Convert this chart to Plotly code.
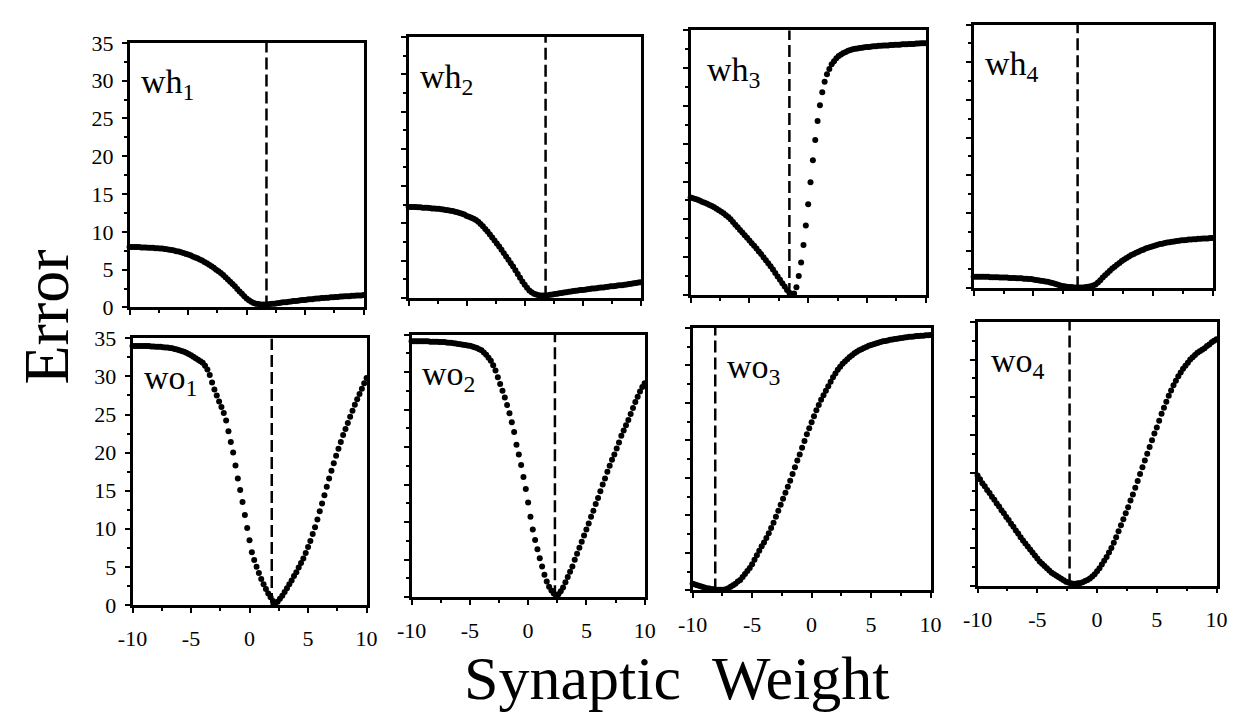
import plotly.graph_objects as go

# Synaptic weight sampled across each sweep (same grid for all eight panels)
WEIGHTS = [
    -10.0, -9.8, -9.6, -9.4, -9.2, -9.0, -8.8, -8.6, -8.4, -8.2,
    -8.0, -7.8, -7.6, -7.4, -7.2, -7.0, -6.8, -6.6, -6.4, -6.2,
    -6.0, -5.8, -5.6, -5.4, -5.2, -5.0, -4.8, -4.6, -4.4, -4.2,
    -4.0, -3.8, -3.6, -3.4, -3.2, -3.0, -2.8, -2.6, -2.4, -2.2,
    -2.0, -1.8, -1.6, -1.4, -1.2, -1.0, -0.8, -0.6, -0.4, -0.2,
    0.0, 0.2, 0.4, 0.6, 0.8, 1.0, 1.2, 1.4, 1.6, 1.8,
    2.0, 2.2, 2.4, 2.6, 2.8, 3.0, 3.2, 3.4, 3.6, 3.8,
    4.0, 4.2, 4.4, 4.6, 4.8, 5.0, 5.2, 5.4, 5.6, 5.8,
    6.0, 6.2, 6.4, 6.6, 6.8, 7.0, 7.2, 7.4, 7.6, 7.8,
    8.0, 8.2, 8.4, 8.6, 8.8, 9.0, 9.2, 9.4, 9.6, 9.8,
    10.0,
]

# Error of the network as one weight is swept (hidden-layer weights)
ERR_WH1 = [
    8.0, 8.0, 8.0, 8.0, 8.0, 7.95, 7.95, 7.95, 7.9, 7.9,
    7.9, 7.85, 7.85, 7.8, 7.8, 7.75, 7.7, 7.65, 7.6, 7.55,
    7.45, 7.4, 7.3, 7.2, 7.1, 7.0, 6.9, 6.75, 6.6, 6.5,
    6.35, 6.2, 6.0, 5.85, 5.65, 5.45, 5.25, 5.0, 4.8, 4.55,
    4.3, 4.0, 3.7, 3.4, 3.1, 2.8, 2.45, 2.1, 1.8, 1.5,
    1.2, 0.95, 0.75, 0.6, 0.5, 0.45, 0.4, 0.4, 0.4, 0.4,
    0.45, 0.5, 0.5, 0.55, 0.6, 0.65, 0.7, 0.7, 0.75, 0.8,
    0.85, 0.85, 0.9, 0.95, 1.0, 1.0, 1.05, 1.1, 1.1, 1.15,
    1.2, 1.2, 1.25, 1.25, 1.3, 1.3, 1.35, 1.35, 1.4, 1.4,
    1.45, 1.45, 1.5, 1.5, 1.5, 1.55, 1.55, 1.6, 1.6, 1.6,
    1.65,
]
ERR_WH2 = [
    12.2, 12.2, 12.2, 12.2, 12.15, 12.15, 12.1, 12.1, 12.1, 12.05,
    12.0, 12.0, 11.95, 11.95, 11.9, 11.85, 11.8, 11.75, 11.7, 11.65,
    11.55, 11.5, 11.4, 11.3, 11.2, 11.0, 10.9, 10.75, 10.6, 10.45,
    10.2, 9.9, 9.6, 9.25, 8.9, 8.5, 8.1, 7.7, 7.3, 6.9,
    6.45, 6.0, 5.55, 5.1, 4.65, 4.2, 3.7, 3.2, 2.7, 2.2,
    1.75, 1.35, 1.0, 0.75, 0.55, 0.45, 0.35, 0.3, 0.3, 0.3,
    0.35, 0.4, 0.45, 0.5, 0.55, 0.6, 0.65, 0.7, 0.75, 0.8,
    0.85, 0.9, 0.95, 1.0, 1.05, 1.05, 1.1, 1.15, 1.2, 1.25,
    1.25, 1.3, 1.35, 1.4, 1.4, 1.45, 1.5, 1.55, 1.55, 1.6,
    1.65, 1.7, 1.7, 1.75, 1.8, 1.85, 1.9, 1.95, 2.0, 2.05,
    2.1,
]
ERR_WH3 = [
    12.9, 12.8, 12.7, 12.6, 12.45, 12.3, 12.2, 12.05, 11.9, 11.75,
    11.6, 11.4, 11.2, 11.0, 10.8, 10.55, 10.3, 10.0, 9.65, 9.3,
    8.95, 8.6, 8.25, 7.9, 7.55, 7.2, 6.85, 6.5, 6.15, 5.75,
    5.4, 5.0, 4.6, 4.2, 3.8, 3.35, 2.9, 2.45, 2.0, 1.55,
    1.1, 0.65, 0.3, 0.1, 0.2, 1.0, 2.5, 4.3, 6.6, 9.2,
    12.0, 14.9, 17.8, 20.5, 23.0, 25.1, 26.8, 28.2, 29.2, 29.9,
    30.5, 30.9, 31.3, 31.6, 31.8, 32.0, 32.15, 32.3, 32.4, 32.5,
    32.55, 32.6, 32.65, 32.7, 32.75, 32.8, 32.8, 32.85, 32.9, 32.9,
    32.95, 32.95, 33.0, 33.0, 33.0, 33.05, 33.05, 33.1, 33.1, 33.1,
    33.15, 33.15, 33.15, 33.2, 33.2, 33.2, 33.25, 33.25, 33.3, 33.3,
    33.3,
]
ERR_WH4 = [
    1.5, 1.5, 1.5, 1.5, 1.5, 1.5, 1.5, 1.45, 1.45, 1.45,
    1.45, 1.4, 1.4, 1.4, 1.4, 1.35, 1.35, 1.35, 1.3, 1.3,
    1.3, 1.25, 1.25, 1.2, 1.2, 1.15, 1.1, 1.05, 1.0, 0.95,
    0.9, 0.85, 0.75, 0.7, 0.6, 0.5, 0.4, 0.3, 0.25, 0.2,
    0.15, 0.15, 0.1, 0.1, 0.1, 0.1, 0.1, 0.15, 0.2, 0.25,
    0.35, 0.5, 0.75, 1.05, 1.4, 1.7, 2.0, 2.3, 2.6, 2.85,
    3.1, 3.35, 3.6, 3.8, 4.0, 4.2, 4.4, 4.55, 4.7, 4.85,
    5.0, 5.1, 5.25, 5.35, 5.45, 5.55, 5.65, 5.75, 5.85, 5.9,
    6.0, 6.05, 6.1, 6.15, 6.2, 6.25, 6.3, 6.35, 6.35, 6.4,
    6.45, 6.45, 6.5, 6.5, 6.55, 6.55, 6.6, 6.6, 6.6, 6.65,
    6.65,
]

# Error of the network as one weight is swept (output-layer weights)
ERR_WO1 = [
    34.0, 34.0, 34.0, 34.0, 34.0, 34.0, 34.0, 34.0, 33.95, 33.95,
    33.9, 33.9, 33.9, 33.85, 33.8, 33.8, 33.75, 33.7, 33.6, 33.55,
    33.45, 33.35, 33.25, 33.1, 32.95, 32.8, 32.6, 32.4, 32.2, 32.0,
    31.8, 31.4, 30.9, 30.2, 29.2, 28.3, 27.5, 26.7, 26.0, 25.2,
    24.2, 22.8, 21.4, 20.0, 18.3, 16.6, 15.1, 13.5, 11.8, 10.1,
    8.5, 6.9, 5.9, 5.0, 4.2, 3.4, 2.7, 2.1, 1.5, 1.0,
    0.5, 0.2, 0.4, 0.8, 1.2, 1.7, 2.2, 2.7, 3.2, 3.8,
    4.3, 4.9, 5.5, 6.1, 6.8, 7.6, 8.4, 9.3, 10.2, 11.2,
    12.3, 13.3, 14.4, 15.5, 16.6, 17.6, 18.6, 19.6, 20.5, 21.4,
    22.3, 23.1, 23.9, 24.7, 25.5, 26.3, 27.0, 27.7, 28.4, 29.1,
    29.8,
]
ERR_WO2 = [
    34.1, 34.1, 34.1, 34.1, 34.1, 34.1, 34.1, 34.1, 34.05, 34.05,
    34.05, 34.05, 34.0, 34.0, 34.0, 33.95, 33.9, 33.9, 33.85, 33.8,
    33.75, 33.7, 33.65, 33.6, 33.55, 33.5, 33.4, 33.3, 33.2, 33.05,
    32.9, 32.6, 32.3, 31.9, 31.5, 30.9, 30.2, 29.3, 28.4, 27.5,
    26.6, 25.6, 24.5, 23.3, 22.0, 20.3, 19.0, 17.6, 16.0, 14.4,
    12.6, 10.7, 9.0, 7.6, 6.4, 5.2, 4.1, 3.0, 2.1, 1.4,
    0.9, 0.5, 0.2, 0.4, 0.8, 1.3, 2.0, 2.7, 3.4, 4.1,
    5.0, 5.8, 6.6, 7.4, 8.2, 9.0, 9.8, 10.7, 11.5, 12.4,
    13.2, 14.1, 15.0, 15.8, 16.7, 17.5, 18.3, 19.0, 19.8, 20.6,
    21.5, 22.2, 22.9, 23.6, 24.4, 25.2, 26.0, 26.7, 27.4, 28.0,
    28.5,
]
ERR_WO3 = [
    0.9, 0.8, 0.7, 0.6, 0.5, 0.4, 0.3, 0.25, 0.2, 0.15,
    0.1, 0.1, 0.1, 0.1, 0.15, 0.3, 0.5, 0.7, 0.9, 1.2,
    1.4, 1.8, 2.2, 2.6, 3.0, 3.5, 4.1, 4.7, 5.3, 5.9,
    6.4, 7.0, 7.6, 8.3, 9.0, 9.8, 10.6, 11.4, 12.2, 13.0,
    13.8, 14.6, 15.5, 16.4, 17.3, 18.1, 19.0, 19.9, 20.8, 21.6,
    22.4, 23.2, 24.0, 24.7, 25.4, 26.0, 26.6, 27.2, 27.8, 28.4,
    28.9, 29.4, 29.8, 30.2, 30.5, 30.8, 31.1, 31.35, 31.6, 31.8,
    32.0, 32.15, 32.3, 32.45, 32.6, 32.7, 32.8, 32.9, 33.0, 33.1,
    33.2, 33.25, 33.3, 33.4, 33.45, 33.5, 33.55, 33.6, 33.65, 33.7,
    33.75, 33.8, 33.8, 33.85, 33.9, 33.9, 33.95, 33.95, 34.0, 34.0,
    34.05,
]
ERR_WO4 = [
    14.6, 14.1, 13.6, 13.2, 12.7, 12.3, 11.8, 11.4, 10.9, 10.5,
    10.0, 9.6, 9.1, 8.7, 8.2, 7.8, 7.3, 6.9, 6.4, 6.0,
    5.6, 5.2, 4.8, 4.4, 4.0, 3.6, 3.2, 2.9, 2.6, 2.3,
    2.0, 1.7, 1.5, 1.3, 1.1, 0.9, 0.7, 0.5, 0.4, 0.3,
    0.25, 0.25, 0.3, 0.35, 0.45, 0.6, 0.75, 0.95, 1.2, 1.5,
    1.9, 2.3, 2.8, 3.3, 3.8, 4.4, 5.0, 5.7, 6.4, 7.2,
    8.0, 8.8, 9.6, 10.4, 11.3, 12.1, 13.0, 13.9, 14.8, 15.7,
    16.6, 17.5, 18.4, 19.3, 20.2, 21.0, 21.9, 22.8, 23.6, 24.4,
    25.2, 25.9, 26.6, 27.2, 27.8, 28.3, 28.8, 29.2, 29.6, 30.0,
    30.3, 30.6, 30.9, 31.1, 31.3, 31.5, 31.8, 32.0, 32.3, 32.5,
    32.7,
]

PANEL_NAMES = [
    "wh<sub>1</sub>", "wh<sub>2</sub>", "wh<sub>3</sub>", "wh<sub>4</sub>",
    "wo<sub>1</sub>", "wo<sub>2</sub>", "wo<sub>3</sub>", "wo<sub>4</sub>",
]
PANEL_ERRORS = [ERR_WH1, ERR_WH2, ERR_WH3, ERR_WH4,
                ERR_WO1, ERR_WO2, ERR_WO3, ERR_WO4]
# Trained value of each weight (dashed marker)
TRAINED_WEIGHTS = [1.7, 1.8, -1.6, -1.3, 1.9, 2.3, -8.1, -2.3]

X_TICKS = [-10, -5, 0, 5, 10]
X_TICK_TEXT = ["-10", "-5", "0", "5", "10"]
Y_TICKS = [0, 5, 10, 15, 20, 25, 30, 35]
Y_RANGE = [0, 35]
X_RANGE = [-10, 10]

# ---- layout geometry (pixels) ----
W, H = 1252, 727
# left, right, top, bottom of each panel frame
BOXES = [
    (117, 356, 32, 306), (402, 639, 26, 296), (690, 930, 19, 293), (979, 1223, 13, 286),
    (120, 359, 338, 614), (405, 643, 334, 606), (692, 935, 327, 599), (983, 1227, 321, 594),
]
LABEL_DX = [10, 10, 15, 10, 10, 9, 33, 12]

SERIF = "Liberation Serif, Times New Roman, serif"
INK = "black"

fig = go.Figure()
layout = dict(
    width=W, height=H,
    margin=dict(l=0, r=0, t=0, b=0),
    paper_bgcolor="white", plot_bgcolor="white",
    showlegend=False,
    font=dict(family=SERIF, color=INK),
)
annotations = []

for i, (name, errs, w_opt, box, dx) in enumerate(
        zip(PANEL_NAMES, PANEL_ERRORS, TRAINED_WEIGHTS, BOXES, LABEL_DX)):
    k = i + 1
    xs = "" if k == 1 else str(k)
    left, right, top, bottom = box
    bottom_row = i >= 4
    first_col = i % 4 == 0

    fig.add_trace(go.Scatter(
        x=WEIGHTS, y=errs, mode="markers",
        marker=dict(size=6, color=INK, line=dict(width=0)),
        cliponaxis=False, hoverinfo="skip",
        xaxis="x" + xs, yaxis="y" + xs,
    ))
    fig.add_trace(go.Scatter(
        x=[w_opt, w_opt], y=Y_RANGE, mode="lines",
        line=dict(color=INK, width=2.5, dash="12px,5px"),
        hoverinfo="skip", xaxis="x" + xs, yaxis="y" + xs,
    ))

    layout["xaxis" + xs] = dict(
        domain=[left / W, right / W], range=X_RANGE, anchor="y" + xs,
        showline=True, linecolor=INK, linewidth=2.5, mirror=True,
        showgrid=False, zeroline=False,
        ticks="outside", ticklen=5, tickwidth=2, tickcolor=INK,
        tickvals=X_TICKS, ticktext=X_TICK_TEXT,
        showticklabels=bottom_row, ticklabelstandoff=7,
        tickfont=dict(family=SERIF, size=22, color=INK),
        minor=dict(dtick=2.5, tick0=0, ticks="outside", ticklen=3,
                   tickwidth=1.5, tickcolor=INK),
    )
    layout["yaxis" + xs] = dict(
        domain=[1 - bottom / H, 1 - top / H], range=Y_RANGE, anchor="x" + xs,
        showline=True, linecolor=INK, linewidth=2.5, mirror=True,
        showgrid=False, zeroline=False,
        ticks="outside", ticklen=5, tickwidth=2, tickcolor=INK,
        tickvals=Y_TICKS, showticklabels=first_col, ticklabelstandoff=4,
        tickfont=dict(family=SERIF, size=22, color=INK),
        minor=dict(dtick=2.5, tick0=0, ticks="outside", ticklen=3,
                   tickwidth=1.5, tickcolor=INK),
    )

    annotations.append(dict(
        text=name, xref="paper", yref="paper",
        x=(left + dx) / W, y=1 - (top + 43) / H,
        xanchor="left", yanchor="middle", showarrow=False,
        font=dict(family=SERIF, size=34, color=INK),
    ))

annotations.append(dict(
    text="Error", xref="paper", yref="paper",
    x=32 / W, y=1 - 316 / H, textangle=-90,
    xanchor="center", yanchor="middle", showarrow=False,
    font=dict(family=SERIF, size=64, color=INK),
))
annotations.append(dict(
    text="Synaptic&nbsp;&nbsp;Weight", xref="paper", yref="paper",
    x=676 / W, y=0,
    xanchor="center", yanchor="bottom", showarrow=False,
    font=dict(family=SERIF, size=62, color=INK),
))

layout["annotations"] = annotations
fig.update_layout(**layout)
fig.write_html("out.html")
